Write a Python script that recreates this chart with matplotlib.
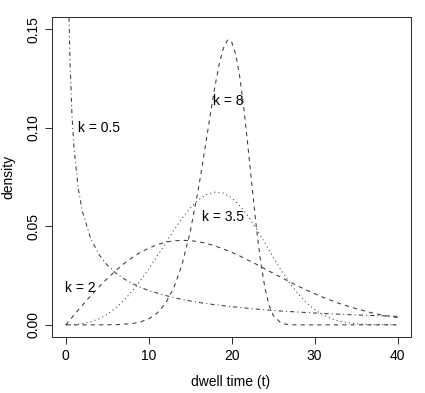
import matplotlib
matplotlib.use("Agg")
import matplotlib.pyplot as plt

# dwell time (t) and density readings for each shape k
t_k05 = [0.38, 0.4, 0.5, 0.75, 1, 1.5, 2, 3, 4, 5, 6, 7, 8, 9, 10, 12, 14, 16, 18, 20,
         22, 24, 26, 28, 30, 32, 34, 36, 38, 40]
d_k05 = [0.1580, 0.1535, 0.1350, 0.1064, 0.0894, 0.0694, 0.0576, 0.0438, 0.0357, 0.0303,
         0.0264, 0.0234, 0.0210, 0.0191, 0.0174, 0.0149, 0.0129, 0.0114, 0.0102, 0.0092,
         0.0084, 0.0076, 0.0070, 0.0065, 0.0060, 0.0056, 0.0052, 0.0049, 0.0046, 0.0043]

t_k2 = list(range(0, 41))
d_k2 = [0.0, 0.0050, 0.0099, 0.0147, 0.0192, 0.0235, 0.0274, 0.0310, 0.0341, 0.0368,
        0.0389, 0.0406, 0.0419, 0.0426, 0.0429, 0.0427, 0.0422, 0.0413, 0.0400, 0.0385,
        0.0368, 0.0349, 0.0328, 0.0307, 0.0284, 0.0262, 0.0240, 0.0218, 0.0197, 0.0177,
        0.0158, 0.0140, 0.0124, 0.0108, 0.0095, 0.0082, 0.0071, 0.0060, 0.0051, 0.0044,
        0.0037]

t_k35 = list(range(0, 41))
d_k35 = [0.0, 0.0001, 0.0006, 0.0015, 0.0031, 0.0054, 0.0085, 0.0124, 0.0170, 0.0224,
         0.0283, 0.0347, 0.0413, 0.0478, 0.0539, 0.0592, 0.0634, 0.0662, 0.0673, 0.0668,
         0.0644, 0.0604, 0.0550, 0.0486, 0.0416, 0.0344, 0.0275, 0.0213, 0.0158, 0.0113,
         0.0077, 0.0051, 0.0032, 0.0019, 0.0011, 0.0006, 0.0003, 0.00015, 0.00007, 0.00003,
         0.00001]

t_k8 = [0, 2, 4, 6, 8, 9, 10, 11, 12, 13, 14, 15, 16, 16.5, 17, 17.5, 18, 18.5, 19, 19.5,
        19.7, 20, 20.5, 21, 21.5, 22, 22.5, 23, 23.5, 24, 24.5, 25, 26, 27, 28, 30, 35, 40]
d_k8 = [0.0, 0.0, 0.0, 0.0001, 0.0006, 0.0015, 0.0030, 0.0059, 0.0107, 0.0185,
        0.0303, 0.0471, 0.0692, 0.0819, 0.0952, 0.1086, 0.1213, 0.1322, 0.1403, 0.1444,
        0.1446, 0.1435, 0.1371, 0.1252, 0.1087, 0.0891, 0.0684, 0.0487, 0.0319, 0.0190,
        0.0101, 0.0048, 0.0007, 0.00005, 0.0, 0.0, 0.0, 0.0]

labels = ["k = 0.5", "k = 8", "k = 3.5", "k = 2"]
label_pos = [(4.0, 0.0998), (19.6, 0.1135), (18.9, 0.0548), (1.76, 0.0189)]

x_ticks = [0, 10, 20, 30, 40]
y_ticks = [0.00, 0.05, 0.10, 0.15]
y_ticklabels = ["0.00", "0.05", "0.10", "0.15"]

plt.rcParams['font.family'] = ['Liberation Sans', 'DejaVu Sans']

fig = plt.figure(figsize=(4.25, 3.93), dpi=100)
ax = fig.add_axes([0.1235, 0.1433, 0.9666 - 0.1235, 0.956 - 0.1433])

lw = 0.75
col = "#3a3a3a"
ax.plot(t_k05, d_k05, color=col, lw=lw, linestyle=(0, (1, 3, 4, 3)))
ax.plot(t_k8, d_k8, color=col, lw=lw, linestyle=(0, (4, 4)))
ax.plot(t_k35, d_k35, color=col, lw=lw, linestyle=(0, (1, 3)))
ax.plot(t_k2, d_k2, color=col, lw=lw, linestyle=(0, (4, 4)))

for lab, (lx, ly) in zip(labels, label_pos):
    ax.text(lx, ly, lab, ha="center", va="center", fontsize=10, color="black")

ax.set_xlim(-1.6, 41.6)
ax.set_ylim(-0.006, 0.156)
ax.set_xticks(x_ticks)
ax.set_xticklabels([str(v) for v in x_ticks])
ax.set_yticks(y_ticks)
ax.set_yticklabels(y_ticklabels, rotation=90, va="center")
ax.tick_params(direction="out", length=5, width=0.75, pad=3.7, labelsize=10,
               color="#333333")
for s in ax.spines.values():
    s.set_linewidth(0.75)
    s.set_color("#333333")

fig.text(231 / 425, 1 - 381.7 / 393, "dwell time (t)", ha="center", va="center", fontsize=10)
fig.text(8 / 425, 1 - 177 / 393, "density", ha="center", va="center", fontsize=10, rotation=90)

fig.savefig("out.png", dpi=100)
